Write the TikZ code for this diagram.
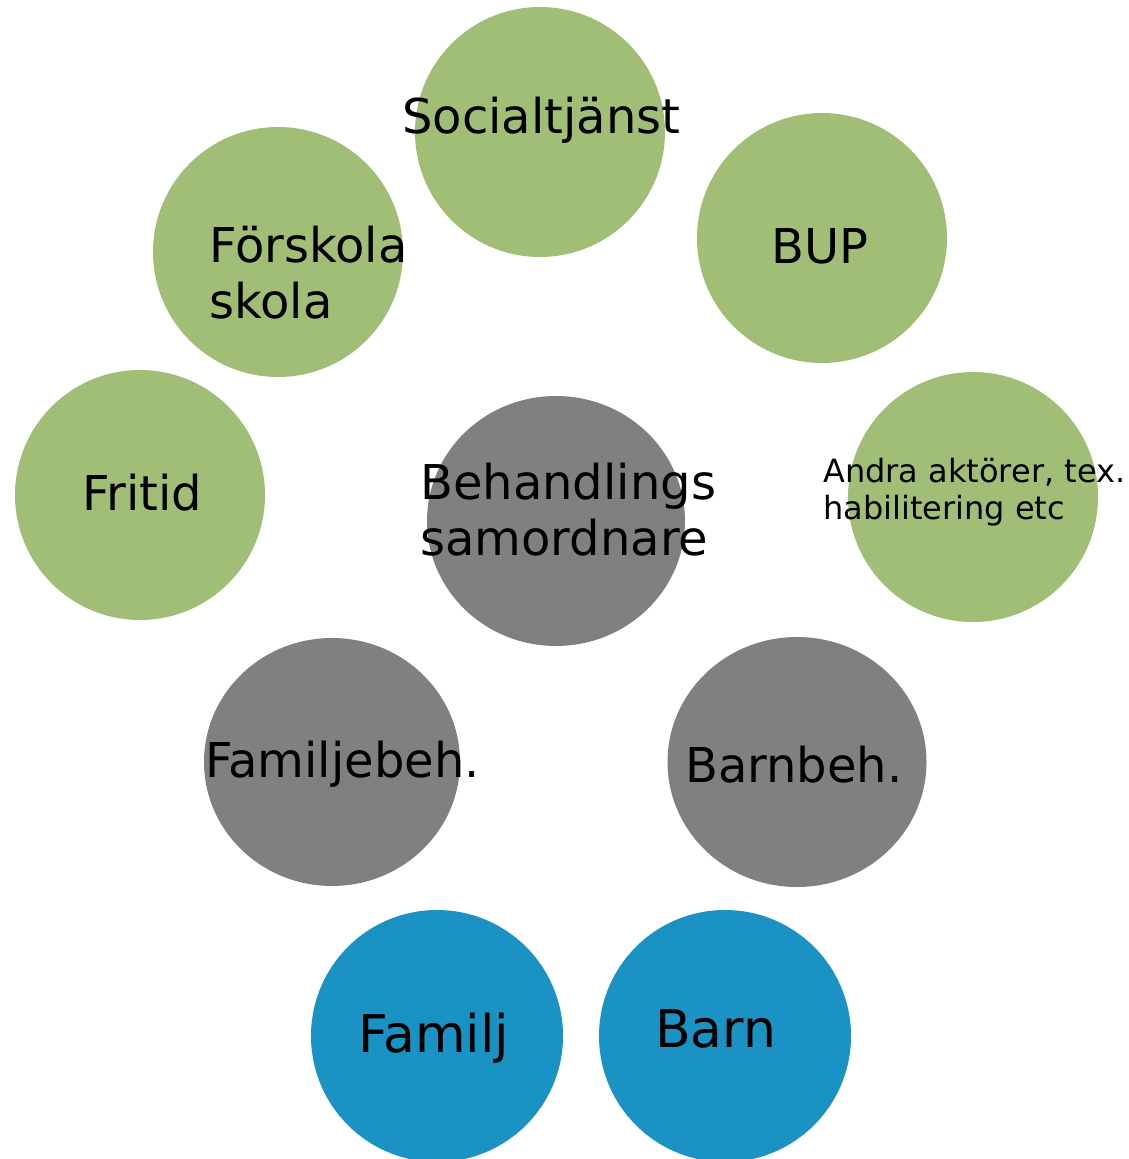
\documentclass[tikz,border=0pt]{standalone}
\usepackage{fontspec}
\setmainfont{DejaVu Sans}
\usepackage{tikz}
\usetikzlibrary{shapes.geometric}

\definecolor{aktgreen}{HTML}{A0BE76}
\definecolor{behgrey}{HTML}{808080}
\definecolor{famblue}{HTML}{1B92C4}

\begin{document}
\begin{tikzpicture}[x=1pt,y=-1pt,
  green node/.style={circle,fill=aktgreen,inner sep=0pt,minimum size=250pt},
  grey node/.style={ellipse,fill=behgrey,inner sep=0pt,minimum width=258pt,minimum height=250pt},
  blue node/.style={circle,fill=famblue,inner sep=0pt,minimum size=252pt},
  txt/.style={anchor=base west,inner sep=0pt,align=left,font=\fontsize{48}{56}\selectfont},
  small txt/.style={txt,font=\fontsize{32}{37}\selectfont},
  big txt/.style={txt,font=\fontsize{52}{60}\selectfont}]
  \useasboundingbox (0,0) rectangle (1128,1159);

  % circles
  \node[green node] (1) at (540,132) {};
  \node[green node] (2) at (822,238) {};
  \node[green node] (3) at (278,252) {};
  \node[green node] (4) at (140,495) {};
  \node[green node] (5) at (973,497) {};
  \node[grey node] (6) at (556,521) {};
  \node[grey node,minimum width=256pt,minimum height=248pt] (7) at (332,762) {};
  \node[grey node,minimum width=259pt] (8) at (797,762) {};
  \node[blue node] (9) at (437,1036) {};
  \node[blue node] (10) at (725,1036) {};

  % labels (multi-line ones sit on the last line)
  \node[txt] (t1) at (402,133) {Socialtjänst};
  \node[txt] (t2) at (771,263) {BUP};
  \node[txt] (t3) at (209,318) {Förskola\\skola};
  \node[txt] (t4) at (82,510) {Fritid};
  \node[small txt] (t5) at (823,519) {Andra aktörer, tex.\\habilitering etc};
  \node[txt] (t6) at (420,555) {Behandlings\\samordnare};
  \node[txt] (t7) at (205,777) {Familjebeh.};
  \node[txt] (t8) at (685,782) {Barnbeh.};
  \node[big txt] (t9) at (358,1052) {Familj};
  \node[big txt] (t10) at (655,1047) {Barn};
\end{tikzpicture}
\end{document}
